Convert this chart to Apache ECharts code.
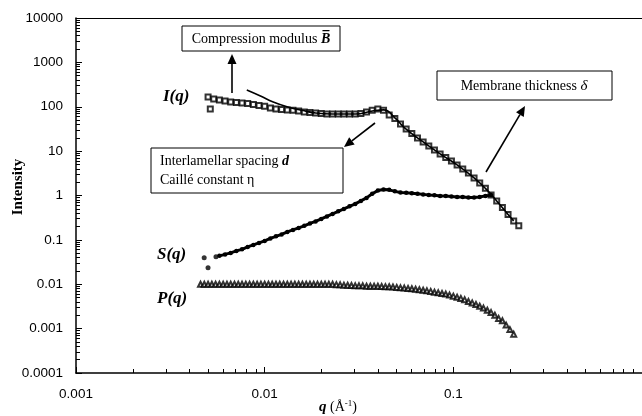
<!DOCTYPE html>
<html lang="en">
<head>
    <meta charset="UTF-8">
    <title>Intensity vs q</title>
    <script src="https://cdn.jsdelivr.net/npm/echarts@6/dist/echarts.min.js"></script>
    <style>html, body { margin: 0; padding: 0; background: #fff; }</style>
</head>
<body>

<div id="main" style="width: 642px;height:416px;"></div>

<script type="text/javascript">
    // q grid (1/A), log spaced
    var qGrid = [0.004677, 0.005012, 0.005370, 0.005754, 0.006166, 0.006607, 0.007079, 0.007586, 0.008128, 0.008710,
        0.009333, 0.01, 0.01072, 0.01148, 0.01230, 0.01318, 0.01413, 0.01514, 0.01622, 0.01738,
        0.01862, 0.01995, 0.02138, 0.02291, 0.02455, 0.02630, 0.02818, 0.03020, 0.03236, 0.03467,
        0.03715, 0.03981, 0.04266, 0.04571, 0.04898, 0.05248, 0.05623, 0.06026, 0.06457, 0.06918,
        0.07413, 0.07943, 0.08511, 0.09120, 0.09772, 0.1047, 0.1122, 0.1202, 0.1288, 0.1380,
        0.1479, 0.1585, 0.1698, 0.1820, 0.1950, 0.2089];

    // I(q) on qGrid[1..55], plus two stray points
    var iVal = [166, 150, 142, 135, 128, 125, 122, 119, 113, 107, 102,
        94, 89, 87, 85, 83, 80, 76, 74.5, 72.5, 70.6,
        68.8, 68.8, 68.8, 68.8, 68.8, 68.8, 70.6, 76, 83, 89,
        83, 65.3, 54.6, 41.0, 31.6, 25.0, 19.8, 16.1, 13.1, 10.6,
        8.65, 7.21, 6.01, 4.89, 3.97, 3.23, 2.49, 1.92, 1.45, 1.03,
        0.755, 0.540, 0.375, 0.268];
    var iExtraQ = [0.00515, 0.2223];
    var iExtra = [89, 0.207];

    // model curve through I(q)
    var fitQ = [0.00804, 0.0095, 0.0111, 0.0133, 0.0158, 0.0186, 0.0229, 0.0302, 0.0372, 0.0427,
        0.049, 0.056, 0.0692, 0.0851, 0.1047, 0.1288, 0.1479, 0.1698, 0.195, 0.2089];
    var fitVal = [239, 175, 128, 99, 83, 72.5, 68.8, 68.8, 80, 85,
        56, 31.6, 16.1, 8.65, 4.89, 2.49, 1.45, 0.755, 0.375, 0.268];

    // S(q) on qGrid[3..51], first points apart
    var sLeadQ = [0.00478, 0.00501, 0.00552];
    var sLead = [0.0393, 0.0234, 0.0414];
    var sVal = [0.0436, 0.0471, 0.0509, 0.0565, 0.0611, 0.0695, 0.0771, 0.0855, 0.0949,
        0.108, 0.120, 0.133, 0.151, 0.168, 0.186, 0.207, 0.235, 0.261, 0.297,
        0.338, 0.385, 0.439, 0.499, 0.569, 0.647, 0.755, 0.883, 1.09, 1.30,
        1.37, 1.34, 1.24, 1.17, 1.15, 1.12, 1.09, 1.06, 1.03, 1.01,
        0.98, 0.98, 0.955, 0.93, 0.93, 0.906, 0.906, 0.93, 0.98, 1.02];

    // P(q) is sampled more densely
    var pQ = [0.004571, 0.004786, 0.005012, 0.005248, 0.005495, 0.005754, 0.006026, 0.006310, 0.006607, 0.006918,
        0.007244, 0.007586, 0.007943, 0.008318, 0.008710, 0.009120, 0.009550, 0.01, 0.01047, 0.01096,
        0.01148, 0.01202, 0.01259, 0.01318, 0.01380, 0.01445, 0.01514, 0.01585, 0.01660, 0.01738,
        0.01820, 0.01905, 0.01995, 0.02089, 0.02188, 0.02291, 0.02399, 0.02512, 0.02630, 0.02754,
        0.02884, 0.03020, 0.03162, 0.03311, 0.03467, 0.03631, 0.03802, 0.03981, 0.04169, 0.04365,
        0.04571, 0.04786, 0.05012, 0.05248, 0.05495, 0.05754, 0.06026, 0.06310, 0.06607, 0.06918,
        0.07244, 0.07586, 0.07943, 0.08318, 0.08710, 0.09120, 0.09550, 0.1, 0.1047, 0.1096,
        0.1148, 0.1202, 0.1259, 0.1318, 0.1380, 0.1445, 0.1514, 0.1585, 0.1660, 0.1738,
        0.1820, 0.1905, 0.1995, 0.2089];
    var pVal = [0.01, 0.01, 0.01, 0.01, 0.01, 0.01, 0.01, 0.01, 0.01, 0.01,
        0.01, 0.01, 0.01, 0.01, 0.01, 0.01, 0.01, 0.01, 0.01, 0.01,
        0.01, 0.01, 0.01, 0.01, 0.01, 0.01, 0.01, 0.01, 0.01, 0.01,
        0.01, 0.01, 0.01, 0.01, 0.01, 0.01, 0.0098, 0.0097, 0.0095, 0.0095,
        0.0094, 0.0092, 0.0092, 0.0092, 0.0090, 0.0090, 0.0090, 0.0090, 0.0089, 0.0088,
        0.0088, 0.0087, 0.0085, 0.0083, 0.0082, 0.0080, 0.0079, 0.0077, 0.0075, 0.0073,
        0.0071, 0.0069, 0.0066, 0.0064, 0.0062, 0.0060, 0.0057, 0.0054, 0.0051, 0.0048,
        0.0045, 0.0041, 0.0038, 0.0035, 0.0032, 0.0029, 0.0026, 0.0023, 0.0020, 0.0017,
        0.0015, 0.0012, 0.00095, 0.00075];

    function zip(qs, vs) {
        return vs.map(function (v, k) { return [qs[k], v]; });
    }

    var serif = '"Liberation Serif", "Times New Roman", serif';
    var sans = '"Liberation Sans", Arial, sans-serif';

    function arrow(x1, y1, x2, y2) {
        var a = Math.atan2(y2 - y1, x2 - x1), L = 10, W = 4.5;
        var bx = x2 - L * Math.cos(a), by = y2 - L * Math.sin(a);
        return [{
            type: 'line', shape: {x1: x1, y1: y1, x2: bx, y2: by},
            style: {stroke: '#000', lineWidth: 1.6}
        }, {
            type: 'polygon',
            shape: {points: [[x2, y2], [bx + W * Math.sin(a), by - W * Math.cos(a)], [bx - W * Math.sin(a), by + W * Math.cos(a)]]},
            style: {fill: '#000'}
        }];
    }

    function box(x, y, w, h) {
        return {type: 'rect', shape: {x: x, y: y, width: w, height: h}, style: {fill: '#fff', stroke: '#000', lineWidth: 1}};
    }

    function label(x, y, text, font, align, rich) {
        return {
            type: 'text', x: x, y: y,
            style: {text: text, font: font, fill: '#000', align: align || 'left', verticalAlign: 'middle', rich: rich || {}}
        };
    }

    var graphics = [
        box(182, 26, 158, 25),
        label(261, 39, 'Compression modulus {b|B\u0305}', '14px ' + serif, 'center',
            {b: {font: 'italic bold 14px ' + serif}}),
        box(151, 148, 192, 45),
        label(160, 161, 'Interlamellar spacing {b|d}', '14px ' + serif, 'left',
            {b: {font: 'italic bold 14px ' + serif}}),
        label(160, 180, 'Caillé constant η', '14px ' + serif, 'left'),
        box(437, 71, 175, 29),
        label(524, 86, 'Membrane thickness {i|δ}', '14px ' + serif, 'center',
            {i: {font: 'italic 15px ' + serif}}),
        label(163, 97, 'I(q)', 'italic bold 17px ' + serif),
        label(157, 255, 'S(q)', 'italic bold 17px ' + serif),
        label(157, 299, 'P(q)', 'italic bold 17px ' + serif),
        {
            type: 'text', x: 18, y: 187, rotation: Math.PI / 2,
            style: {text: 'Intensity', font: 'bold 15px ' + serif, fill: '#000', align: 'center', verticalAlign: 'middle'}
        },
        label(338, 407, '{q|q} (Å{s|-1})', '14px ' + serif, 'center',
            {q: {font: 'italic bold 15px ' + serif}, s: {font: '9px ' + serif, verticalAlign: 'top', padding: [0, 0, 6, 0]}})
    ].concat(arrow(232, 93, 232, 54), arrow(375, 123, 344, 147), arrow(486, 172, 525, 106));

    var myChart = echarts.init(document.getElementById('main'));

    myChart.setOption({
        animation: false,
        grid: {
            left: 76,
            top: 18,
            width: 570,
            height: 355
        },
        xAxis: [{
            type: 'log',
            min: 0.001,
            max: 1,
            axisLine: {lineStyle: {color: '#000', width: 1.5}},
            axisTick: {inside: true, length: 6, lineStyle: {color: '#000'}},
            minorTick: {show: true, splitNumber: 9, length: 4, lineStyle: {color: '#000'}},
            splitLine: {show: false},
            axisLabel: {
                color: '#000', fontFamily: sans, fontSize: 13.5, margin: 14, showMaxLabel: false,
                formatter: function (v) { return String(+v.toPrecision(1)); }
            }
        }, {
            // top frame line only
            type: 'log',
            min: 0.001,
            max: 1,
            position: 'top',
            axisLine: {lineStyle: {color: '#000', width: 1}},
            axisTick: {show: false},
            axisLabel: {show: false},
            splitLine: {show: false}
        }],
        yAxis: {
            type: 'log',
            min: 0.0001,
            max: 10000,
            axisLine: {lineStyle: {color: '#000', width: 1.5}},
            axisTick: {inside: true, length: 6, lineStyle: {color: '#000'}},
            minorTick: {show: true, splitNumber: 9, length: 4, lineStyle: {color: '#000'}},
            splitLine: {show: false},
            axisLabel: {
                color: '#000', fontFamily: sans, fontSize: 13.5, margin: 13,
                formatter: function (v) { return String(+v.toPrecision(1)); }
            }
        },
        series: [{
            name: 'I(q) fit',
            type: 'line',
            smooth: true,
            showSymbol: false,
            lineStyle: {color: '#000', width: 1.6},
            data: zip(fitQ, fitVal)
        }, {
            name: 'I(q)',
            type: 'scatter',
            symbol: 'emptyRect',
            symbolSize: 5,
            itemStyle: {color: '#000', borderWidth: 1},
            data: zip(qGrid.slice(1), iVal).concat(zip(iExtraQ, iExtra))
        }, {
            name: 'S(q) lead',
            type: 'scatter',
            symbol: 'circle',
            symbolSize: 5,
            itemStyle: {color: '#000'},
            data: zip(sLeadQ, sLead)
        }, {
            name: 'S(q)',
            type: 'line',
            symbol: 'circle',
            symbolSize: 4.5,
            showAllSymbol: true,
            lineStyle: {color: '#000', width: 3},
            itemStyle: {color: '#000'},
            data: zip(qGrid.slice(3), sVal)
        }, {
            name: 'P(q)',
            type: 'scatter',
            symbol: 'emptyTriangle',
            symbolSize: 5,
            itemStyle: {color: '#000', borderWidth: 1},
            data: zip(pQ, pVal)
        }],
        graphic: graphics
    });
</script>

</body>
</html>
